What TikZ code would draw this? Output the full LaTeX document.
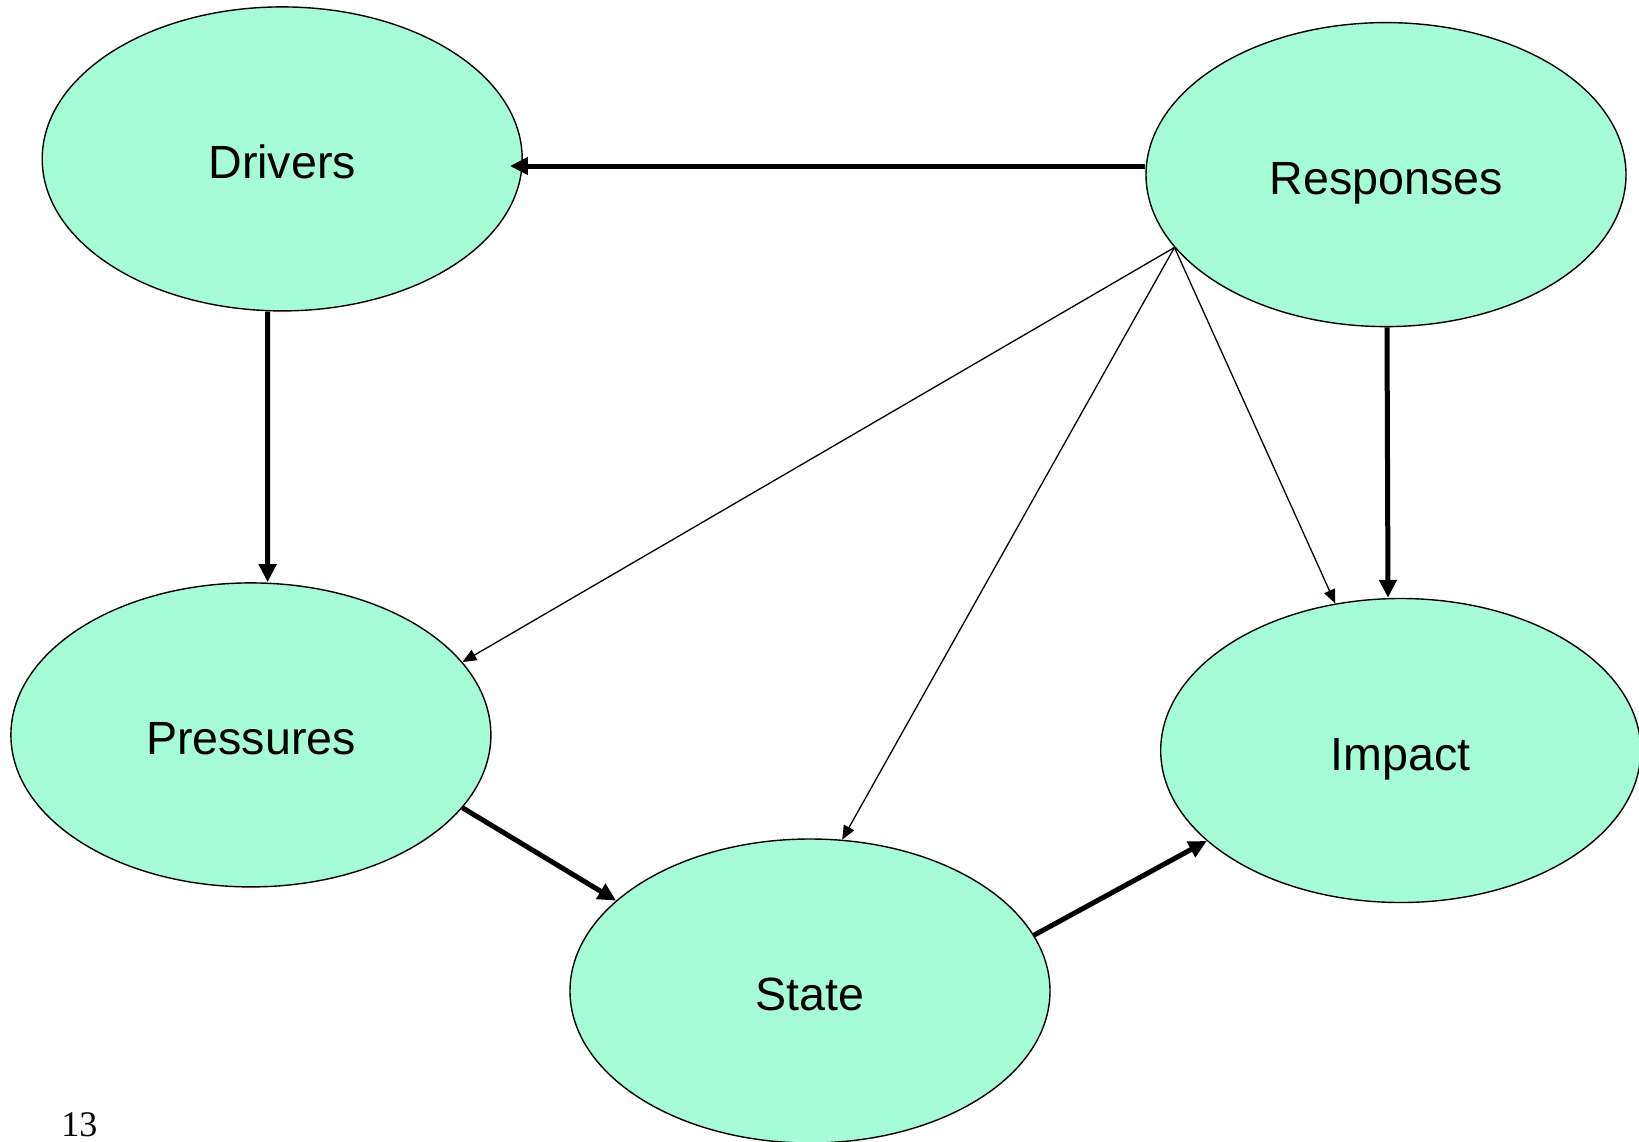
\documentclass[tikz,border=0pt]{standalone}
\usepackage{fontspec}
\setmainfont{Liberation Sans}
\newfontfamily\serifnum{Liberation Serif}
\usetikzlibrary{shapes.geometric,arrows.meta}
\definecolor{mint}{RGB}{166,252,215}
\tikzset{
  blob/.style={ellipse, draw=black, line width=0.7pt, fill=mint, inner sep=0pt,
    minimum width=240pt, minimum height=152pt, text height=22pt, text depth=2.2pt,
    font=\fontsize{23.3}{28}\selectfont},
  bigarrow/.style={line width=2.5pt, -{Triangle[length=9pt,width=8.5pt]}},
  thinarrow/.style={line width=0.65pt, -{Triangle[length=7pt,width=5.8pt]}}
}
\begin{document}
\begin{tikzpicture}[x=0.5pt,y=-0.5pt]
\useasboundingbox (0,0) rectangle (1639,1141);
\node[blob] (Drivers) at (282.2,158.9) {Drivers};
\node[blob] (Responses) at (1386,174.6) {Responses};
\node[blob] (Pressures) at (250.9,734.9) {Pressures};
\node[blob] (Impact) at (1400.7,750.5) {Impact};
\node[blob] (State) at (810,991) {State};
\node[inner sep=0pt, anchor=base west, font=\serifnum\fontsize{18}{20}\selectfont] (pagenum) at (61,1136) {13};
\coordinate (v) at (Responses.199.4);
% thick connectors
\draw[bigarrow, shorten >=-6.5pt] ([yshift=4.3pt]Responses.west) -- ([yshift=-3.55pt]Drivers.east);
\draw[bigarrow] ([xshift=-7.3pt]Drivers.south) -- ([xshift=8.35pt]Pressures.north);
\draw[bigarrow] ([xshift=0.5pt]Responses.south) -- ([xshift=-6.35pt]Impact.north);
\draw[bigarrow] (Pressures.-19) -- (State.155);
\draw[bigarrow] (State.14.5) -- (Impact.205);
% thin connectors
\draw[thinarrow] (v) -- (Pressures.19);
\draw[thinarrow] (v) -- (State.78);
\draw[thinarrow] (v) -- (Impact.114);
\end{tikzpicture}
\end{document}
